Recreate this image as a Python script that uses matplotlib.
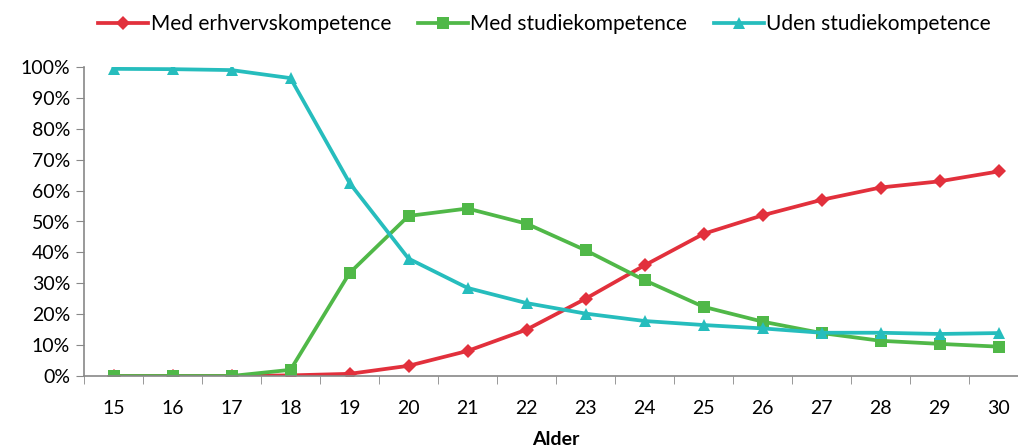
import matplotlib
matplotlib.use("Agg")
import matplotlib.pyplot as plt
from matplotlib.ticker import FuncFormatter

ages = [15, 16, 17, 18, 19, 20, 21, 22, 23, 24, 25, 26, 27, 28, 29, 30]
erhverv = [0, 0, 0, 0.2, 0.7, 3.3, 8.1, 15.0, 25.0, 35.8, 46.0, 52.0, 57.0, 61.0, 63.0, 66.2]
studie = [0, 0, 0, 2.0, 33.3, 51.8, 54.2, 49.3, 40.7, 31.0, 22.4, 17.6, 13.9, 11.4, 10.4, 9.5]
uden = [99.4, 99.3, 99.0, 96.4, 62.5, 38.0, 28.5, 23.6, 20.2, 17.8, 16.5, 15.4, 14.0, 14.0, 13.6, 13.9]

series_names = ["Med erhvervskompetence", "Med studiekompetence", "Uden studiekompetence"]
colors = ["#E2303C", "#50B848", "#26BDBD"]
markers = ["D", "s", "^"]
msizes = [7.5, 8.5, 9]

plt.rcParams['font.family'] = ['Lato', 'DejaVu Sans']

fig = plt.figure(figsize=(10.18, 4.48), dpi=100)
ax = fig.add_axes([84/1018, 1-376/448, (1028-84)/1018, (376-67)/448])

x = list(range(len(ages)))
for vals, name, c, m, ms in zip([erhverv, studie, uden], series_names, colors, markers, msizes):
    ax.plot(x, vals, color=c, lw=2.7, marker=m, ms=ms, label=name, markeredgewidth=0)

ax.set_xlim(-0.5, len(ages) - 0.5)
ax.set_ylim(0, 100)
ax.set_yticks(range(0, 101, 10))
ax.yaxis.set_major_formatter(FuncFormatter(lambda v, p: f"{int(v)}%"))
ax.set_xticks(x)
ax.set_xticklabels([str(a) for a in ages])
ax.set_xticks([i - 0.5 for i in range(len(ages) + 1)], minor=True)
ax.tick_params(axis='x', which='major', length=0, pad=17, labelsize=14)
ax.tick_params(axis='x', which='minor', length=6, color='#888888', direction='out')
ax.tick_params(axis='y', length=6, color='#888888', labelsize=14, pad=4)

for s in ['top', 'right']:
    ax.spines[s].set_visible(False)
for s in ['left', 'bottom']:
    ax.spines[s].set_color('#888888')
    ax.spines[s].set_linewidth(1.2)

ax.set_xlabel("Alder", fontsize=14, fontweight='bold', labelpad=10)

fig.legend(loc='upper center', bbox_to_anchor=(0.535, 1.01), ncol=3, frameon=False,
           fontsize=15, handlelength=2.4, columnspacing=1.3, handletextpad=0.1)

fig.savefig("out.png", dpi=100)
